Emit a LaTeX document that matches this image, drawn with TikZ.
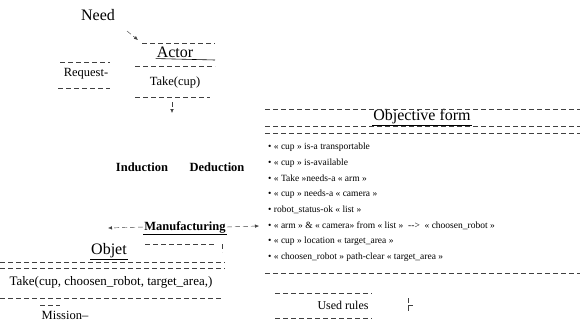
\documentclass[tikz,border=0pt]{standalone}
\usepackage{fontspec}
\setmainfont{Liberation Serif}
\usetikzlibrary{positioning,calc}
\usetikzlibrary{arrows.meta}

\begin{document}
\begin{tikzpicture}[x=1pt,y=-1pt,
         rule/.style = {black!75, dash pattern=on 5pt off 3pt, line width=0.45pt},
         solidrule/.style = {line width=0.6pt},
         tip/.style = {-{Latex[length=4pt,width=3.5pt]}},
         title/.style = {font=\fontsize{16}{16}\selectfont, inner sep=1pt},
         plain/.style = {font=\fontsize{12.5}{12.5}\selectfont, inner sep=1pt},
         heavy/.style = {font=\fontsize{12.5}{12.5}\selectfont\bfseries, inner sep=1pt},
         item/.style = {font=\fontsize{9.5}{9.5}\selectfont, anchor=west, inner sep=0pt}
]
   \useasboundingbox (0,0) rectangle (580,327);

   % actor
   \node[title] (need) at (98,15) {Need};
   \node[title] (actor) at (175,52) {Actor};
   \node[plain] (take) at (175,82) {Take(cup)};
   \node[plain] (request) at (86,74) {Request-};
   \draw[rule] (142,43) -- (215,43);
   \draw[solidrule] (actor.south west) -- (215,60);
   \draw[rule] (135,66) -- (215,66);
   \draw[rule] (135,97) -- (210,97);
   \draw[rule] (60,62) -- (110,62);
   \draw[rule] (58,88) -- (110,88);
   \coordinate (a0) at (127,31);
   \coordinate (a1) at (138,40);
   \coordinate (a2) at (172,102);
   \coordinate (a3) at (172,113);
   \draw[rule,tip] (a0) -- (a1);
   \draw[rule,tip] (a2) -- (a3);

   % reasoning
   \node[heavy] (ind) at (142,167) {Induction};
   \node[heavy] (ded) at (217,167) {Deduction};
   \node[heavy] (manuf) at (185,227) {Manufacturing};
   \draw[solidrule] (manuf.south west) -- (manuf.south east);
   \coordinate (m0) at (108,228);

   % objet
   \node[title] (objet) at (109,251) {Objet};
   \node[plain,font=\fontsize{13}{13}\selectfont] (mobj) at (111,282) {Take(cup, choosen\_robot, target\_area,)};
   \node[plain] (mission) at (65,315) {Mission–};
   \draw[rule] (145,244) -- (215,244);
   \draw[rule] (222,244) -- (222,252);
   \draw[solidrule] (objet.south west) -- (objet.south east);
   \draw[rule] (0,262) -- (225,262);
   \draw[rule] (0,268) -- (225,268);
   \draw[rule] (0,298) -- (222,298);
   \draw[rule] (40,305) -- (60,305);

   % objective form
   \node[title] (form) at (422,117) {Objective form};
   \draw[rule] (265,109) -- (580,109);
   \draw[rule] (265,126) -- (580,126);
   \draw[solidrule] (form.south west) -- (form.south east);
   \draw[rule] (265,133) -- (580,133);
   \node[item] (i1) at (268,147) {• « cup » is-a transportable};
   \node[item] (i2) at (268,163) {• « cup » is-available};
   \node[item] (i3) at (268,178) {• « Take »needs-a « arm »};
   \node[item] (i4) at (268,194) {• « cup » needs-a « camera »};
   \node[item] (i5) at (268,210) {• robot\_status-ok « list »};
   \node[item] (i6) at (268,226) {• « arm » \& « camera» from « list » \ {-}{-}> \ « choosen\_robot »};
   \node[item] (i7) at (268,241) {• « cup » location « target\_area »};
   \node[item] (i8) at (268,257) {• « choosen\_robot » path-clear « target\_area »};
   \draw[rule] (265,273) -- (580,273);

   \draw[rule,tip] (manuf.west) -- (m0);
   \draw[rule,tip] (manuf.east) -- ($(i6.west)+(-9,0)$);

   % used rules
   \node[plain,font=\fontsize{12}{12}\selectfont] (used) at (343,305) {Used rules};
   \draw[rule] (275,293) -- (372,293);
   \draw[rule] (275,318) -- (372,318);
   \draw[rule] (408,298) -- (408,312);
   \draw[rule] (408,305) -- (415,305);
\end{tikzpicture}
\end{document}
